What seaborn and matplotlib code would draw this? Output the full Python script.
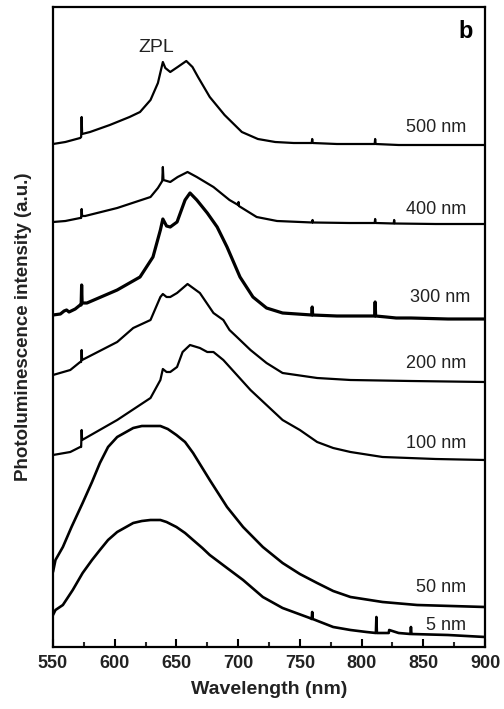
import numpy as np
import pandas as pd
import matplotlib
matplotlib.use("Agg")
import matplotlib.pyplot as plt
import seaborn as sns
from matplotlib.ticker import MultipleLocator

# ---- data (wavelength in nm, offset PL intensity in a.u.) ----
w500 = [550, 560, 572, 572.8, 573.2, 573.6, 580, 596, 612, 620.5, 629, 635, 639, 641, 645, 651, 658, 663, 667.5, 677,
        689, 703, 716, 730, 745, 759.6, 760, 760.4, 780, 810.6, 811, 811.4, 830, 860, 900]
i500 = [503, 505, 509, 510, 530, 513, 515, 522, 530, 535, 547, 564, 585, 579, 575, 580, 586, 580, 570, 550,
        532, 515, 508, 505, 504, 504, 508, 504, 503, 503, 508, 503, 502, 502, 502]

w400 = [550, 560, 572, 572.8, 573.2, 573.6, 576, 602, 629, 635, 638.5, 639, 639.5, 645, 651, 659, 666.5, 680, 693, 700,
        700.3, 700.6, 715, 731.5, 760, 760.3, 760.6, 790, 810.6, 811, 811.4, 826, 826.4, 826.8, 860, 900]
i400 = [425, 426, 429, 429, 438, 431, 431, 439, 450, 459, 466, 480, 467, 465, 470, 475, 470, 460, 447, 442,
        445, 441, 430, 426, 424.5, 427, 424.5, 424, 424, 428, 424, 423.5, 427, 423.5, 423, 423]

w300 = [550, 556, 559, 561, 563, 568, 572, 572.8, 573.2, 573.6, 577.5, 602, 620.5, 631, 637, 639, 642, 645, 650.5, 657,
        661, 666.5, 675, 683, 691, 701.5, 712, 723, 736, 759.6, 760, 760.4, 780, 810.6, 811, 811.4, 820, 828, 840, 870,
        900]
i300 = [332, 333, 336, 337, 335, 338, 342, 342, 362, 344, 344, 357, 370, 390, 417, 428, 421, 420, 425, 447,
        454, 447, 434, 420, 400, 370, 350, 339, 334, 332, 340, 332, 331, 331, 345, 331, 330, 329, 329, 328,
        328]

w200 = [550, 564, 572, 572.8, 573.2, 573.6, 602, 615, 629, 637, 639, 642, 645, 650.5, 659, 669, 680, 688, 693, 699,
        710, 723, 736, 764, 791, 840, 900]
i200 = [272, 277, 285, 285, 297, 287, 305, 319, 327, 350, 353, 350, 350, 354, 363, 354, 334, 327, 317, 310,
        297, 284, 274, 269, 267, 266, 265]

w100 = [550, 564, 572, 572.8, 573.2, 573.6, 602, 629, 637, 639, 642, 645, 650.5, 655, 661, 669, 675, 680, 688, 699,
        710, 723, 736, 750, 764, 777, 791, 817, 860, 900]
i100 = [192, 195, 200, 200, 217, 207, 227, 249, 267, 278, 275, 275, 280, 295, 302, 299, 295, 295, 287, 272,
        257, 242, 227, 217, 205, 199, 195, 190, 188, 187]

w50 = [550, 552, 558, 565, 574, 581.6, 588, 594.6, 602, 615, 622, 629, 637, 643, 650, 657, 663.5, 670, 677, 691,
       704, 720, 736, 750, 764, 777, 791, 817, 845, 900]
i50 = [75, 87, 100, 120, 144, 165, 184, 200, 210, 219, 221, 221, 221, 218, 212, 205, 194, 181, 167, 140,
       120, 100, 84, 73, 64, 56, 50, 45, 42, 40]

w5 = [550, 552, 558, 566, 574, 581.6, 588, 594.6, 602, 615, 622, 629, 637, 642, 650, 657, 663.5, 671, 677, 691,
      704, 720, 736, 747, 758, 759.6, 760, 760.4, 777, 791, 804, 811.6, 812, 812.4, 822, 822.4, 830, 839.6, 840, 840.4,
      870, 900]
i5 = [32, 37, 42, 57, 74, 87, 97, 107, 115, 124, 126, 127, 127, 125, 120, 114, 107, 99, 92, 79,
      67, 50, 39, 34, 29, 28, 35, 28, 20, 17, 15, 14, 30, 14, 14, 17, 14, 13, 20, 13,
      12, 10]

series_names = ["500 nm", "400 nm", "300 nm", "200 nm", "100 nm", "50 nm", "5 nm"]
series_w = [w500, w400, w300, w200, w100, w50, w5]
series_i = [i500, i400, i300, i200, i100, i50, i5]
xticks = [550, 600, 650, 700, 750, 800, 850, 900]

# ---- style ----
sns.set_theme(style="white")
plt.rcParams["font.family"] = ["Liberation Sans", "DejaVu Sans"]

fig = plt.figure(figsize=(5.04, 7.09), dpi=100)
ax = fig.add_axes([53 / 504, 1 - 647 / 709, 432 / 504, 640 / 709])

line_w = {"300 nm": 2.3, "50 nm": 1.9, "5 nm": 1.9}
for name, w, i in zip(series_names, series_w, series_i):
    df = pd.DataFrame({"Wavelength": w, "Intensity": i})
    sns.lineplot(data=df, x="Wavelength", y="Intensity", ax=ax, color="black",
                 lw=line_w.get(name, 1.6), sort=False, estimator=None,
                 solid_joinstyle="round", solid_capstyle="round")

label_y = {"500 nm": 520, "400 nm": 438, "300 nm": 350, "200 nm": 284,
           "100 nm": 203, "50 nm": 60, "5 nm": 22}
label_x = {"300 nm": 888}
for name in series_names:
    ax.text(label_x.get(name, 885), label_y[name], name, ha="right", va="center",
            fontsize=13, color="#222222")

ax.text(634, 600, "ZPL", ha="center", va="center", fontsize=14, color="#222222")
ax.text(884, 616, "b", ha="center", va="center", fontsize=17, fontweight="bold", color="black")

ax.set_xlim(550, 900)
ax.set_ylim(0, 640)
ax.set_xticks(xticks)
ax.xaxis.set_minor_locator(MultipleLocator(25))
ax.set_yticks([])
ax.tick_params(axis="x", which="major", direction="in", length=6, width=1.5,
               bottom=True, top=False, pad=6, labelsize=13, colors="black")
ax.tick_params(axis="x", which="minor", direction="in", length=3.5, width=1.5,
               bottom=True, top=False)
for lab in ax.get_xticklabels():
    lab.set_fontweight("bold")
    lab.set_color("#222222")

for sp in ax.spines.values():
    sp.set_visible(True)
    sp.set_color("black")
    sp.set_linewidth(1.6)

ax.set_xlabel("Wavelength (nm)", fontsize=14, fontweight="bold", color="#222222", labelpad=6)
ax.set_ylabel("Photoluminescence intensity (a.u.)", fontsize=13.5, fontweight="bold",
              color="#222222", labelpad=15)

fig.savefig("out.png", dpi=100)
